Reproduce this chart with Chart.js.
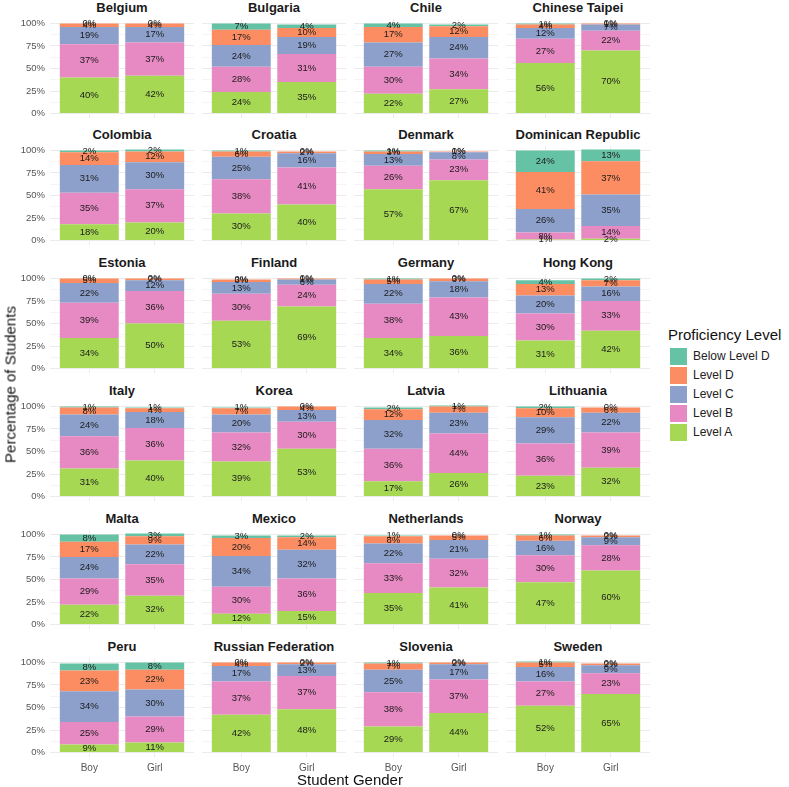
<!DOCTYPE html>
<html>
<head>
<meta charset="utf-8">
<script src="https://cdn.jsdelivr.net/npm/chart.js@4.4.1/dist/chart.umd.min.js"></script>
<style>
  body { margin: 0; background: #fff; font-family: "Liberation Sans", Arial, sans-serif; }
  #wrap { position: relative; width: 789px; height: 787px; overflow: hidden; }
  #wrap canvas { position: absolute; }
  .strip { position: absolute; width: 144px; text-align: center; font-weight: bold; font-size: 13px; line-height: 14px; color: #1a1a1a; white-space: nowrap; }
  .axis-title { position: absolute; font-size: 15px; color: #111; white-space: nowrap; }
  .legend-title { position: absolute; left: 668px; top: 326px; font-size: 15px; color: #111; }
  .legend-item { position: absolute; left: 670px; height: 17px; font-size: 12px; line-height: 17px; color: #222; }
  .legend-item span { display: inline-block; width: 17px; height: 17px; vertical-align: top; margin-right: 6px; }
</style>
</head>
<body>
<div id="wrap"></div>
<script>
const countries = ['Belgium', 'Bulgaria', 'Chile', 'Chinese Taipei', 'Colombia', 'Croatia', 'Denmark', 'Dominican Republic',
  'Estonia', 'Finland', 'Germany', 'Hong Kong', 'Italy', 'Korea', 'Latvia', 'Lithuania',
  'Malta', 'Mexico', 'Netherlands', 'Norway', 'Peru', 'Russian Federation', 'Slovenia', 'Sweden'];
const genders = ['Boy', 'Girl'];
const levels = ['Level A', 'Level B', 'Level C', 'Level D', 'Below Level D'];
const levelColors = ['#A6D854', '#E78AC3', '#8DA0CB', '#FC8D62', '#66C2A5'];
const yTicks = [0, 25, 50, 75, 100];

// percentages per country, same order as countries
const levelABoy  = [40, 24, 22, 56, 18, 30, 57, 1, 34, 53, 34, 31, 31, 39, 17, 23, 22, 12, 35, 47, 9, 42, 29, 52];
const levelAGirl = [42, 35, 27, 70, 20, 40, 67, 2, 50, 69, 36, 42, 40, 53, 26, 32, 32, 15, 41, 60, 11, 48, 44, 65];
const levelBBoy  = [37, 28, 30, 27, 35, 38, 26, 8, 39, 30, 38, 30, 36, 32, 36, 36, 29, 30, 33, 30, 25, 37, 38, 27];
const levelBGirl = [37, 31, 34, 22, 37, 41, 23, 14, 36, 24, 43, 33, 36, 30, 44, 39, 35, 36, 32, 28, 29, 37, 37, 23];
const levelCBoy  = [19, 24, 27, 12, 31, 25, 13, 26, 22, 13, 22, 20, 24, 20, 32, 29, 24, 34, 22, 16, 34, 17, 25, 16];
const levelCGirl = [17, 19, 24, 7, 30, 16, 8, 35, 12, 6, 18, 16, 18, 13, 23, 22, 22, 32, 21, 9, 30, 13, 17, 9];
const levelDBoy  = [4, 17, 17, 4, 14, 6, 3, 41, 5, 3, 5, 13, 8, 7, 12, 10, 17, 20, 8, 6, 23, 4, 7, 5];
const levelDGirl = [4, 10, 12, 1, 12, 2, 1, 37, 2, 1, 3, 7, 4, 4, 7, 6, 9, 14, 5, 2, 22, 2, 2, 2];
const belowDBoy  = [0, 7, 4, 1, 2, 1, 1, 24, 0, 0, 1, 4, 1, 1, 2, 2, 8, 3, 1, 1, 8, 0, 1, 1];
const belowDGirl = [0, 4, 2, 0, 2, 0, 0, 13, 0, 0, 0, 2, 1, 0, 1, 0, 3, 2, 0, 0, 8, 0, 0, 0];

const levelData = [
  [levelABoy, levelAGirl],
  [levelBBoy, levelBGirl],
  [levelCBoy, levelCGirl],
  [levelDBoy, levelDGirl],
  [belowDBoy, belowDGirl]
];

const FONT = '"Liberation Sans", Arial, sans-serif';
const wrap = document.getElementById('wrap');

// draw the percentage in the middle of each segment
const segmentLabels = {
  id: 'segmentLabels',
  afterDatasetsDraw(chart) {
    const ctx = chart.ctx;
    ctx.save();
    ctx.font = '9.5px ' + FONT;
    ctx.fillStyle = '#1a1a1a';
    ctx.textAlign = 'center';
    ctx.textBaseline = 'middle';
    chart.data.datasets.forEach((ds, k) => {
      chart.getDatasetMeta(k).data.forEach((el, j) => {
        const { x, y, base } = el.getProps(['x', 'y', 'base'], true);
        ctx.fillText(ds.data[j].y + '%', x, (y + base) / 2);
      });
    });
    ctx.restore();
  }
};

const minorTicks = yTicks.slice(1).map((v, i) => (v + yTicks[i]) / 2);
const allYTicks = yTicks.concat(minorTicks).sort((a, b) => a - b);

countries.forEach((country, i) => {
  const col = i % 4;
  const row = Math.floor(i / 4);
  const firstCol = col === 0;
  const lastRow = row === 5;
  const panelLeft = 50 + col * 152;
  const panelTop = Math.round(18.5 + row * 127.8);

  const strip = document.createElement('div');
  strip.className = 'strip';
  strip.style.left = panelLeft + 'px';
  strip.style.top = (panelTop - 18) + 'px';
  strip.textContent = country;
  wrap.appendChild(strip);

  const canvas = document.createElement('canvas');
  const w = firstCol ? panelLeft + 144 : 144;
  const h = lastRow ? 99 + 22 : 99;
  canvas.width = w;
  canvas.height = h;
  canvas.style.left = (firstCol ? 0 : panelLeft) + 'px';
  canvas.style.top = panelTop + 'px';
  canvas.style.width = w + 'px';
  canvas.style.height = h + 'px';
  wrap.appendChild(canvas);

  new Chart(canvas, {
    type: 'bar',
    data: {
      datasets: levels.map((level, k) => ({
        label: level,
        data: genders.map((g, j) => ({ x: j + 1, y: levelData[k][j][i] })),
        backgroundColor: levelColors[k],
        borderWidth: 0,
        categoryPercentage: 1,
        barPercentage: 0.9
      }))
    },
    options: {
      responsive: false,
      animation: false,
      events: [],
      layout: { padding: 0 },
      plugins: { legend: { display: false }, tooltip: { enabled: false } },
      scales: {
        x: {
          type: 'linear',
          stacked: true,
          offset: false,
          min: 0.4,
          max: 2.6,
          afterBuildTicks: s => { s.ticks = genders.map((g, j) => ({ value: j + 1 })); },
          afterFit: s => {
            s.height = lastRow ? 22 : 0;
            s.paddingLeft = 0;
            s.paddingRight = 0;
          },
          ticks: {
            display: lastRow,
            autoSkip: false,
            maxRotation: 0,
            padding: 5,
            color: '#555',
            font: { size: 10, family: FONT },
            callback: v => genders[v - 1]
          },
          grid: { color: '#ebebeb', drawTicks: false, offset: false },
          border: { display: false }
        },
        y: {
          stacked: true,
          min: -5,
          max: 105,
          afterBuildTicks: s => { s.ticks = allYTicks.map(v => ({ value: v })); },
          afterFit: s => {
            s.width = firstCol ? 50 : 0;
            s.paddingTop = 0;
            s.paddingBottom = 0;
          },
          ticks: {
            display: firstCol,
            autoSkip: false,
            padding: 5,
            color: '#555',
            font: { size: 9.5, family: FONT },
            callback: v => yTicks.includes(v) ? v + '%' : ''
          },
          grid: {
            drawTicks: false,
            color: c => yTicks.includes(c.tick.value) ? '#ebebeb' : '#f5f5f5'
          },
          border: { display: false }
        }
      }
    },
    plugins: [segmentLabels]
  });
});

// axis titles
const xTitle = document.createElement('div');
xTitle.className = 'axis-title';
xTitle.style.left = '50px';
xTitle.style.width = '600px';
xTitle.style.textAlign = 'center';
xTitle.style.top = '771px';
xTitle.textContent = 'Student Gender';
wrap.appendChild(xTitle);

const yTitle = document.createElement('div');
yTitle.className = 'axis-title';
yTitle.style.left = '-90px';
yTitle.style.top = '376px';
yTitle.style.width = '200px';
yTitle.style.textAlign = 'center';
yTitle.style.transform = 'rotate(-90deg)';
yTitle.textContent = 'Percentage of Students';
wrap.appendChild(yTitle);

// legend (top item is the top of the stack)
const legendTitle = document.createElement('div');
legendTitle.className = 'legend-title';
legendTitle.textContent = 'Proficiency Level';
wrap.appendChild(legendTitle);

levels.slice().reverse().forEach((level, n) => {
  const k = levels.length - 1 - n;
  const item = document.createElement('div');
  item.className = 'legend-item';
  item.style.top = (348 + n * 19) + 'px';
  const sw = document.createElement('span');
  sw.style.background = levelColors[k];
  item.appendChild(sw);
  item.appendChild(document.createTextNode(level));
  wrap.appendChild(item);
});
</script>
</body>
</html>
